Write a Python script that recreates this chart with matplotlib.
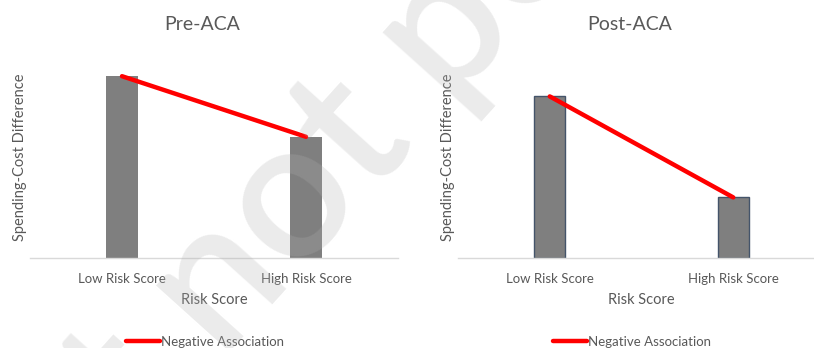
import matplotlib.pyplot as plt

plt.rcParams['font.family'] = ['Lato', 'DejaVu Sans']

categories = ['Low Risk Score', 'High Risk Score']
pre_aca = [9.0, 6.0]
post_aca = [8.0, 3.0]
panel_titles = ['Pre-ACA', 'Post-ACA']
line_label = 'Negative Association'

W, H = 814, 348
fig = plt.figure(figsize=(W / 100, H / 100), dpi=100)

text_grey = '#595959'


def px_axes(left, bottom, width, height):
    # pixel box (from top-left of the image) -> figure fraction
    return fig.add_axes([left / W, 1 - bottom / H, width / W, height / H])


def draw_panel(ax, values, title, edge, title_x, legend_x):
    ax.bar(range(len(values)), values, width=0.17, color='#7f7f7f',
           edgecolor=edge, linewidth=1.0 if edge != 'none' else 0, zorder=2)
    ax.plot(range(len(values)), values, color='#ff0000', lw=3.2,
            solid_capstyle='round', label=line_label, zorder=3)
    ax.set_xlim(-0.5, 1.5)
    ax.set_ylim(0, 10)
    for s in ['top', 'right', 'left']:
        ax.spines[s].set_visible(False)
    ax.spines['bottom'].set_color('#d9d9d9')
    ax.spines['bottom'].set_linewidth(1.0)
    ax.set_yticks([])
    ax.set_xticks(range(len(categories)), categories)
    ax.tick_params(axis='x', length=0, pad=11, labelsize=9.5, labelcolor=text_grey)
    ax.text(0.5, -0.21, 'Risk Score', transform=ax.transAxes, ha='center',
            va='center', fontsize=10.5, color=text_grey)
    ax.text(-0.028, 0.5, 'Spending-Cost Difference', transform=ax.transAxes,
            rotation=90, ha='center', va='center', fontsize=10.5, color=text_grey)
    fig.text(title_x / W, 1 - 24 / H, title, ha='center', va='center',
             fontsize=14, color=text_grey)
    ax.legend(loc='center', bbox_to_anchor=(legend_x / W, 1 - 342 / H),
              bbox_transform=fig.transFigure, frameon=False, fontsize=9.5,
              labelcolor=text_grey, handlelength=2.6, handletextpad=0.1)


ax1 = px_axes(30, 258, 368, 202)
draw_panel(ax1, pre_aca, panel_titles[0], 'none', 202, 205)

ax2 = px_axes(458, 258, 367, 202)
draw_panel(ax2, post_aca, panel_titles[1], '#44546a', 630, 632)

# diagonal watermark on top of both panels
fig.text(496 / W, 1 - 56 / H, 'Preprint not peer reviewed', rotation=48,
         rotation_mode='anchor', ha='center', va='baseline', fontsize=140,
         fontweight='semibold', color='#b0b0b0', alpha=0.25, zorder=10)

fig.savefig('out.png', dpi=100)
